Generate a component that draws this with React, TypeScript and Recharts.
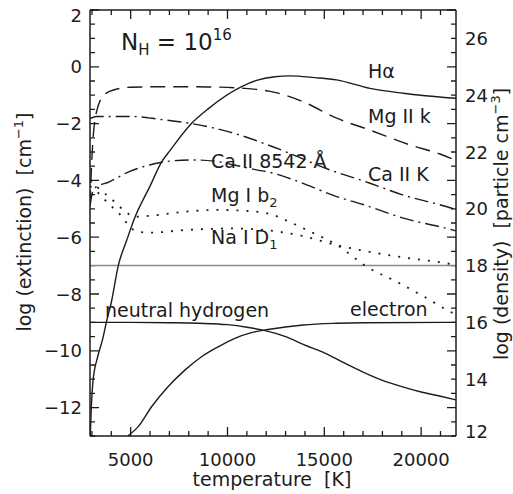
import * as React from "react"
import { LineChart, Line, XAxis, YAxis, ReferenceLine } from "recharts"

// temperature axis [K]
const tempDomain = [2900, 21800]
const tempTicks = [3000, 4000, 5000, 6000, 7000, 8000, 9000, 10000, 11000, 12000, 13000, 14000, 15000, 16000, 17000, 18000, 19000, 20000, 21000]
const tempLabels = [5000, 10000, 15000, 20000]

// log extinction axis [cm^-1] and log density axis [particle cm^-3]
const extDomain = [-13, 2]
const extLabels = [-12, -10, -8, -6, -4, -2, 0, 2]
const densDomain = [12, 27]
const densLabels = [12, 14, 16, 18, 20, 22, 24, 26]
const extTicks = Array.from({ length: 31 }, (_, i) => -13 + i * 0.5)
const densTicks = Array.from({ length: 31 }, (_, i) => 12 + i * 0.5)

// extinction curves (log cm^-1)
const haTemp = [2900, 2950, 3050, 3300, 3550, 3760, 4000, 4360, 4800, 5220, 6000, 6600, 7030, 8150, 9000, 10730, 11500, 12450, 13230, 14500, 15640, 17360, 19060, 21800]
const haExt = [-13.3, -12.3, -11.1, -10.2, -9.6, -8.95, -8.3, -7.0, -6.1, -5.3, -4.2, -3.35, -2.95, -1.99, -1.48, -0.7, -0.48, -0.35, -0.32, -0.38, -0.46, -0.76, -0.93, -1.11]

const mgkTemp = [2900, 2950, 3000, 3050, 3150, 3250, 3450, 3700, 4200, 5000, 7000, 9000, 10900, 12450, 13900, 15640, 17360, 19420, 20970, 21800]
const mgkExt = [-4.9, -4.0, -3.2, -2.6, -1.9, -1.55, -1.15, -0.95, -0.8, -0.72, -0.7, -0.71, -0.76, -0.9, -1.23, -1.81, -2.23, -2.75, -3.07, -3.3]

const caKTemp = [2900, 3250, 5120, 6500, 8150, 10130, 12090, 13400, 14780, 17360, 19000, 21580, 21800]
const caKExt = [-1.82, -1.75, -1.75, -1.85, -2.0, -2.3, -2.75, -3.1, -3.5, -4.1, -4.5, -4.98, -5.03]

const ca8Temp = [2900, 3000, 3130, 3900, 4930, 5960, 6600, 8150, 9300, 10300, 11500, 12200, 13500, 15640, 17000, 19080, 21650, 21800]
const ca8Ext = [-4.9, -4.5, -4.28, -4.05, -3.69, -3.46, -3.36, -3.28, -3.32, -3.45, -3.63, -3.72, -4.0, -4.57, -4.85, -5.33, -5.75, -5.78]

const mgbTemp = [2900, 3470, 4000, 4650, 5220, 6080, 7800, 9520, 10650, 12200, 13000, 14260, 15640, 17190, 18740, 20290, 21490, 21800]
const mgbExt = [-4.0, -4.35, -4.65, -5.05, -5.28, -5.24, -5.1, -5.04, -5.06, -5.18, -5.4, -5.8, -6.27, -7.04, -7.57, -8.15, -8.62, -8.72]

const naTemp = [2900, 3420, 3830, 4450, 4860, 5300, 6000, 7800, 9000, 10220, 11940, 13900, 15290, 16670, 19080, 21320, 21800]
const naExt = [-4.2, -4.5, -4.8, -5.2, -5.55, -5.8, -5.84, -5.75, -5.71, -5.69, -5.75, -5.96, -6.22, -6.43, -6.71, -6.92, -6.98]

// densities (log particle cm^-3)
const nhTemp = [2900, 5000, 7000, 8500, 10000, 11000, 12000, 13000, 14000, 15000, 16000, 17000, 18000, 19000, 20000, 21000, 21800]
const nhDens = [16.0, 16.0, 15.99, 15.97, 15.92, 15.83, 15.7, 15.5, 15.2, 14.93, 14.58, 14.25, 13.96, 13.74, 13.55, 13.4, 13.27]

const elTemp = [4850, 5390, 6080, 6940, 7800, 8660, 9520, 10380, 11240, 12090, 13900, 15640, 17000, 21800]
const elDens = [12.0, 12.33, 13.03, 13.74, 14.32, 14.79, 15.14, 15.44, 15.64, 15.75, 15.91, 15.97, 15.99, 16.0]

const zip = (ts: number[], vs: number[]) => ts.map((t, i) => ({ t, v: vs[i] }))

const ink = "#1c1c1c"
const font = "DejaVu Sans, sans-serif"

// plot box in px (margin + axis sizes below)
const box = { left: 90, top: 10, right: 456, bottom: 436 }
const sx = (t: number) => box.left + ((t - tempDomain[0]) / (tempDomain[1] - tempDomain[0])) * (box.right - box.left)
const sy = (e: number) => box.top + ((extDomain[1] - e) / (extDomain[1] - extDomain[0])) * (box.bottom - box.top)
const major = 9
const minor = 5

const fmt = (v: number) => (v < 0 ? "\u2212" + Math.abs(v) : String(v))

function BottomTick(props: any) {
  const v = props.payload.value
  if (!tempLabels.includes(v)) return <g />
  return (
    <text x={props.x} y={Number(props.y) + 30} textAnchor="middle" fontSize={18} fontFamily={font} fill={ink}>
      {v}
    </text>
  )
}

function LeftTick(props: any) {
  const v = props.payload.value
  if (!extLabels.includes(v)) return <g />
  const dy = v === 2 ? 12 : 6.5
  return (
    <text x={Number(props.x) - 8} y={Number(props.y) + dy} textAnchor="end" fontSize={18} fontFamily={font} fill={ink}>
      {fmt(v)}
    </text>
  )
}

function RightTick(props: any) {
  const v = props.payload.value
  if (!densLabels.includes(v)) return <g />
  const dy = v === 12 ? 1.5 : 6.5
  return (
    <text x={Number(props.x) + 9} y={Number(props.y) + dy} textAnchor="start" fontSize={18} fontFamily={font} fill={ink}>
      {v}
    </text>
  )
}

// inward tick marks on all four sides of the frame
function tickPath() {
  let d = ""
  for (const t of tempTicks) {
    const x = sx(t)
    const len = tempLabels.includes(t) ? major : minor
    d += `M${x},${box.bottom}V${box.bottom - len}M${x},${box.top}V${box.top + len}`
  }
  for (const e of extTicks) {
    const y = sy(e)
    const len = extLabels.includes(e) ? major : minor
    d += `M${box.left},${y}H${box.left + len}M${box.right},${y}H${box.right - len}`
  }
  return d
}

const lineProps = {
  dataKey: "v",
  xAxisId: "bottom",
  type: "monotone" as const,
  stroke: ink,
  strokeWidth: 1.4,
  dot: false,
  activeDot: false,
  isAnimationActive: false,
}

const lbl = { fontSize: 19, fontFamily: font, fill: ink }

export default function App() {
  return (
    <div style={{ position: "absolute", left: 0, top: 0, width: 513, height: 494, background: "#fff" }}>
      <LineChart width={513} height={494} margin={{ top: 10, right: 17, bottom: 28, left: 30 }}>
        <XAxis
          xAxisId="bottom"
          type="number"
          dataKey="t"
          domain={tempDomain}
          ticks={tempTicks}
          interval={0}
          allowDataOverflow
          height={30}
          tickSize={0}
          tickMargin={0}
          tickLine={false}
          axisLine={{ stroke: ink, strokeWidth: 1.5 }}
          tick={BottomTick}
        />
        <YAxis
          yAxisId="left"
          type="number"
          domain={extDomain}
          ticks={extTicks}
          interval={0}
          allowDataOverflow
          width={60}
          tickSize={0}
          tickMargin={0}
          tickLine={false}
          axisLine={{ stroke: ink, strokeWidth: 1.5 }}
          tick={LeftTick}
        />
        <YAxis
          yAxisId="right"
          orientation="right"
          type="number"
          domain={densDomain}
          ticks={densTicks}
          interval={0}
          allowDataOverflow
          width={40}
          tickSize={0}
          tickMargin={0}
          tickLine={false}
          axisLine={{ stroke: ink, strokeWidth: 1.5 }}
          tick={RightTick}
        />

        <ReferenceLine xAxisId="bottom" yAxisId="left" y={extDomain[1]} stroke={ink} strokeWidth={1.5} />
        <ReferenceLine xAxisId="bottom" yAxisId="left" y={-7} stroke="#8a8a8a" strokeWidth={1.5} />

        <Line {...lineProps} yAxisId="left" data={zip(haTemp, haExt)} />
        <Line {...lineProps} yAxisId="left" data={zip(mgkTemp, mgkExt)} strokeDasharray="15 8" />
        <Line {...lineProps} yAxisId="left" data={zip(caKTemp, caKExt)} strokeDasharray="14 5 2 5" />
        <Line {...lineProps} yAxisId="left" data={zip(ca8Temp, ca8Ext)} strokeDasharray="14 5 2 5" />
        <Line {...lineProps} yAxisId="left" data={zip(mgbTemp, mgbExt)} strokeDasharray="2 8" strokeWidth={1.8} />
        <Line {...lineProps} yAxisId="left" data={zip(naTemp, naExt)} strokeDasharray="2 8" strokeWidth={1.8} />
        <Line {...lineProps} yAxisId="right" data={zip(nhTemp, nhDens)} />
        <Line {...lineProps} yAxisId="right" data={zip(elTemp, elDens)} />

        <path d={tickPath()} stroke={ink} strokeWidth={1.3} fill="none" />

        <text x={121} y={50} fontSize={23} fontFamily={font} fill={ink}>
          N<tspan fontSize={15} dy={5}>H</tspan>
          <tspan dy={-5}> = 10</tspan>
          <tspan fontSize={15} dy={-10}>16</tspan>
        </text>
        <text x={368} y={78} {...lbl}>Hα</text>
        <text x={368} y={123} {...lbl}>Mg II k</text>
        <text x={211} y={168} {...lbl}>Ca II 8542 Å</text>
        <text x={368} y={181} {...lbl}>Ca II K</text>
        <text x={211} y={202} {...lbl}>
          Mg I b<tspan fontSize={13} dy={5}>2</tspan>
        </text>
        <text x={211} y={244} {...lbl}>
          Na I D<tspan fontSize={13} dy={5}>1</tspan>
        </text>
        <text x={105} y={317} {...lbl}>neutral hydrogen</text>
        <text x={350} y={316} {...lbl}>electron</text>

        <text x={272} y={486} textAnchor="middle" {...lbl} style={{ whiteSpace: "pre" }}>temperature  [K]</text>
        <text
          transform="translate(31,222) rotate(-90)"
          textAnchor="middle"
          {...lbl}
          style={{ whiteSpace: "pre" }}
        >
          log (extinction)  [cm<tspan fontSize={13} dy={-8}>−1</tspan>
          <tspan dy={8}>]</tspan>
        </text>
        <text
          transform="translate(508,224) rotate(-90)"
          textAnchor="middle"
          {...lbl}
          style={{ whiteSpace: "pre" }}
        >
          log (density)  [particle cm<tspan fontSize={13} dy={-8}>−3</tspan>
          <tspan dy={8}>]</tspan>
        </text>
      </LineChart>
    </div>
  )
}
